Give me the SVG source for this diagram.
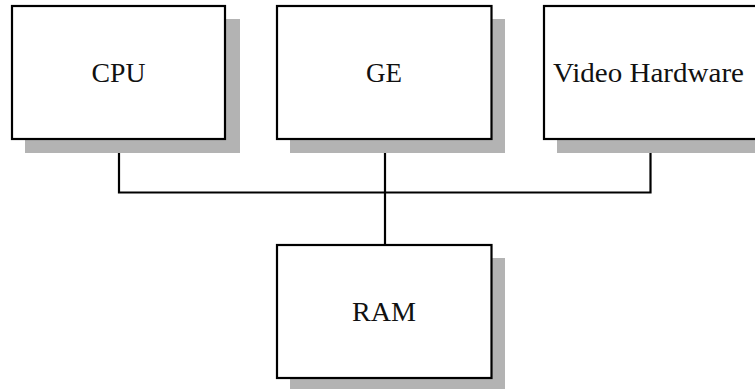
<svg xmlns="http://www.w3.org/2000/svg" width="755" height="389" viewBox="0 0 755 389">
<style>
.shadow{fill:#b3b3b3;stroke:none}
.box{fill:#fff;stroke:#000;stroke-width:2.2}
.label{font-family:"Liberation Serif","DejaVu Serif",serif;font-size:26.5px;fill:#111;text-anchor:middle}
.wire{fill:none;stroke:#000;stroke-width:2.2}
</style>
<g id="connectors">
<path class="wire" d="M119,139 V192.5 H650.5 V139"/>
<path class="wire" d="M385,139 V245"/>
</g>
<g id="cpu">
<rect class="shadow" x="25" y="19" width="215" height="134"/>
<rect class="box" x="12" y="6" width="213" height="133"/>
<text class="label" x="118.5" y="82" textLength="54" lengthAdjust="spacingAndGlyphs">CPU</text>
</g>
<g id="ge">
<rect class="shadow" x="290" y="19" width="215" height="134"/>
<rect class="box" x="277" y="6" width="214.5" height="133"/>
<text class="label" x="384" y="82" textLength="36" lengthAdjust="spacingAndGlyphs">GE</text>
</g>
<g id="video">
<rect class="shadow" x="557" y="19" width="215" height="134"/>
<rect class="box" x="544" y="6" width="215" height="133"/>
<text class="label" x="648.5" y="82" textLength="191" lengthAdjust="spacingAndGlyphs">Video Hardware</text>
</g>
<g id="ram">
<rect class="shadow" x="290" y="258" width="215" height="131"/>
<rect class="box" x="277" y="245" width="214.5" height="133"/>
<text class="label" x="384" y="321" textLength="64" lengthAdjust="spacingAndGlyphs">RAM</text>
</g>
</svg>
